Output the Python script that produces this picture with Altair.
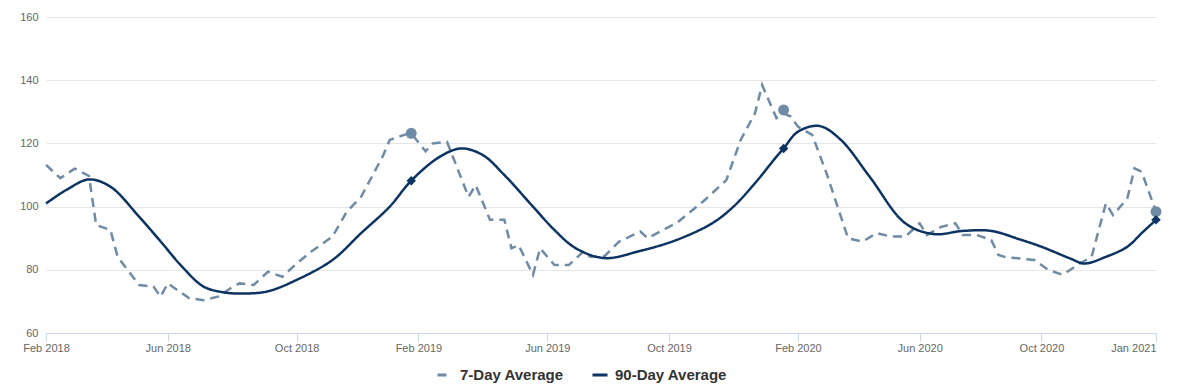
import altair as alt
import pandas as pd

start_date = "2018-02-02"  # first weekly observation

series_names = ["7-Day Average", "90-Day Average"]
series_colors = ["#6f8ba6", "#0c3361"]

weeks_7 = [0, 2, 4, 6, 7, 9, 10, 13, 15, 16, 17, 20, 22, 24, 26, 27, 29, 31, 33, 35,
           37, 40, 42, 44, 47, 48, 50, 51, 53, 54, 56, 59, 60, 62, 64, 65, 66, 68, 69, 71,
           73, 75, 76, 78, 80, 83, 84, 87, 88, 92, 95, 97, 99, 100, 102, 103, 104, 105, 107, 109,
           111, 112, 114, 116, 118, 120, 122, 123, 125, 127, 128, 130, 132, 133, 134, 136, 138, 140, 142, 144,
           146, 148, 149, 151, 152, 153, 155]
values_7 = [113.2, 109, 112, 109.7, 94.2, 92.6, 84.1, 75.2, 74.7, 71.5, 75.7, 71, 70.4, 71.5, 74.5, 75.7, 75.2, 79.4, 77.8, 82,
            85.7, 90.5, 98.4, 103.1, 115.8, 121.1, 122.7, 123.2, 117.5, 120, 120.5, 103.1, 106.8, 95.8, 95.8, 86.8, 87.8, 78.4, 86.8, 81.5,
            81.5, 85.7, 84.1, 84.3, 88.9, 92.1, 90, 93.6, 94.7, 102.1, 108.4, 121.1, 129.5, 138.5, 128, 129.5, 128.5, 125.3, 122.7, 110.5,
            96.8, 90, 88.9, 91.6, 90.5, 90.5, 94.7, 91, 93.6, 94.7, 91, 91, 89.4, 84.7, 84, 83.6, 83.1, 79.9, 78.4, 81.5,
            84.1, 101, 97.3, 102.6, 112.1, 111, 98.4]

weeks_90 = [0, 3, 6, 9, 13, 16, 19, 22, 25, 28, 31, 35, 40, 44, 48, 51, 55, 58, 61, 64,
            68, 71, 74, 78, 83, 88, 93, 96, 99, 102, 103, 105, 108, 111, 115, 120, 124, 128, 132,
            136, 139, 143, 145, 148, 151, 153, 155]
values_90 = [101, 105.5, 108.6, 106.3, 96.8, 89, 81, 74.7, 72.8, 72.5, 73.2, 76.8, 83.1, 91.6, 100, 108.2, 115.8, 118.4, 116.3, 110,
             100, 92.6, 86.8, 83.7, 86, 89.4, 94.7, 100, 107.4, 115.8, 118.4, 123.7, 125.5, 121.1, 109.5, 94.7, 91.3, 92.3, 92.3,
             89.6, 87.3, 83.6, 82, 84.1, 87.3, 91.6, 95.8]

marker_weeks = [51, 103, 155]
marker_values_7 = [123.2, 130.6, 98.4]
marker_values_90 = [108.2, 118.4, 95.8]

tick_dates = ["2018-02-02", "2018-06-01", "2018-10-05", "2019-02-01", "2019-06-07",
              "2019-10-04", "2020-02-07", "2020-06-05", "2020-10-02", "2021-01-22"]
y_ticks = [60, 80, 100, 120, 140, 160]

s0 = pd.Timestamp(start_date)


def to_dates(weeks):
    return [s0 + pd.Timedelta(weeks=w) for w in weeks]


lines = pd.concat([
    pd.DataFrame({"date": to_dates(weeks_7), "value": values_7, "series": series_names[0]}),
    pd.DataFrame({"date": to_dates(weeks_90), "value": values_90, "series": series_names[1]}),
])
mk7 = pd.DataFrame({"date": to_dates(marker_weeks), "value": marker_values_7})
mk90 = pd.DataFrame({"date": to_dates(marker_weeks), "value": marker_values_90})


def dt(s):
    t = pd.Timestamp(s)
    return alt.DateTime(year=t.year, month=t.month, date=t.day)


x_enc = alt.X(
    "date:T",
    scale=alt.Scale(domain=[dt(tick_dates[0]), dt(tick_dates[-1])], nice=False),
    axis=alt.Axis(
        values=[dt(s) for s in tick_dates],
        format="%b %Y",
        title=None,
        grid=False,
        domainColor="#ccd6eb",
        tickColor="#ccd6eb",
        tickSize=8,
        labelPadding=1,
        labelFlush=False,
        labelAlign={"condition": {"test": "datum.value >= datetime(2021, 0, 1)", "value": "right"},
                    "value": "center"},
        labelColor="#666666",
        labelFontSize=11,
        labelFont="Liberation Sans",
    ),
)
y_enc = alt.Y(
    "value:Q",
    scale=alt.Scale(domain=[60, 160], nice=False, zero=False),
    axis=alt.Axis(
        values=y_ticks,
        title=None,
        domain=False,
        ticks=False,
        grid=True,
        gridColor="#e6e6e6",
        labelPadding=8,
        labelColor="#666666",
        labelFontSize=11,
        labelFont="Liberation Sans",
    ),
)

color_enc = alt.Color("series:N", scale=alt.Scale(domain=series_names, range=series_colors))
dash_enc = alt.StrokeDash("series:N", scale=alt.Scale(domain=series_names, range=[[9, 6], [1, 0]]))

line_7 = alt.Chart(lines).transform_filter(alt.datum.series == series_names[0]).mark_line(
    strokeWidth=2.5, interpolate="linear"
).encode(x=x_enc, y=y_enc, color=color_enc, strokeDash=dash_enc)

line_90 = alt.Chart(lines).transform_filter(alt.datum.series == series_names[1]).mark_line(
    strokeWidth=2.5, interpolate="catmull-rom"
).encode(x=x_enc, y=y_enc, color=color_enc, strokeDash=dash_enc)

pts7 = alt.Chart(mk7).mark_point(shape="circle", filled=True, size=120, opacity=1,
                                 color=series_colors[0]).encode(x="date:T", y="value:Q")
pts90 = alt.Chart(mk90).mark_point(shape="diamond", filled=True, size=90, opacity=1,
                                   color=series_colors[1]).encode(x="date:T", y="value:Q")

chart = alt.layer(line_7, line_90, pts7, pts90).properties(
    width=1110,
    height=316,
    autosize=alt.AutoSizeParams(type="none"),
    padding={"left": 38, "top": 9, "right": 23, "bottom": 62},
).configure_view(stroke=None).configure_legend(
    orient="none",
    legendX=390,
    legendY=349,
    direction="horizontal",
    title=None,
    symbolType="stroke",
    symbolStrokeWidth=3,
    symbolSize=225,
    labelFontSize=15,
    labelFontWeight="bold",
    labelColor="#333333",
    labelFont="Liberation Sans",
    labelOffset=6,
    columnPadding=22,
)

chart.save("out.html", embed_options={"renderer": "svg", "actions": False})
